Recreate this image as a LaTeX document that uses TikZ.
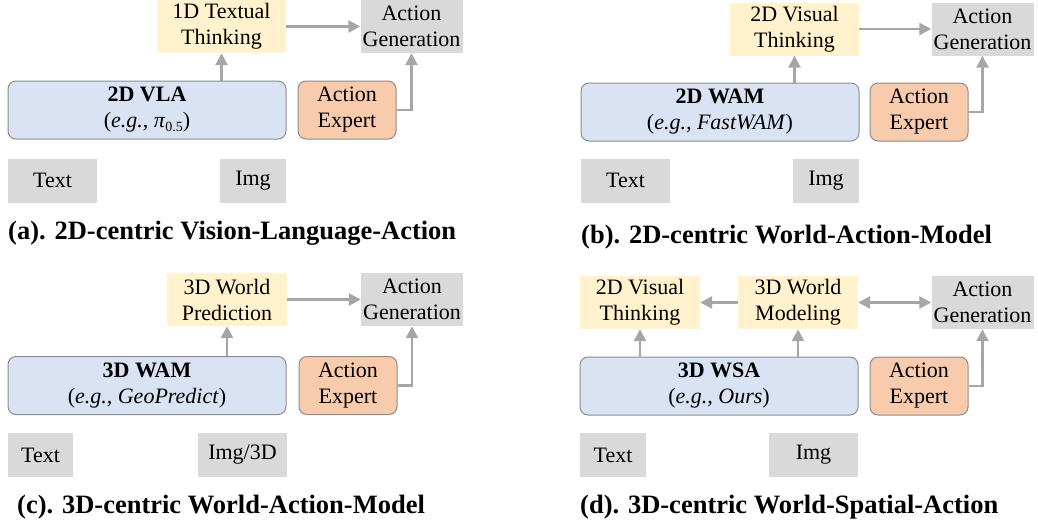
\documentclass[tikz,border=0pt]{standalone}
\usepackage{fontspec}
\setmainfont{Liberation Serif}
\usetikzlibrary{arrows.meta, positioning, calc}
\definecolor{cyel}{HTML}{FFF2CC}
\definecolor{cgen}{HTML}{D9D9D9}
\definecolor{cblue}{HTML}{DAE3F3}
\definecolor{corange}{HTML}{F8CBAD}
\definecolor{cedge}{HTML}{8C8C8C}
\definecolor{carrow}{HTML}{A6A6A6}
\tikzset{
  every picture/.style={font=\fontsize{22}{26}\selectfont},
  flat/.style={fill=#1, draw=none, align=center, inner sep=0pt},
  flat/.default=cgen,
  round/.style={fill=#1, draw=cedge, line width=1pt, rounded corners=8pt, align=center, inner sep=0pt},
  arrow/.style={-{Triangle[length=12pt, width=12pt]}, draw=carrow, line width=2.6pt},
  caption/.style={font=\fontsize{26.5}{30}\selectfont\bfseries, anchor=west, inner sep=0pt},
}

\begin{document}
\begin{tikzpicture}[x=1pt, y=-1pt,
  think/.style={flat=cyel, minimum height=53pt},
  gen/.style={flat=cgen, minimum width=102pt, minimum height=53pt},
  model/.style={round=cblue, minimum width=278pt, minimum height=58pt},
  expert/.style={round=corange, minimum width=98pt, minimum height=58pt},
  inp/.style={flat=cgen, minimum height=44pt}]
  \useasboundingbox (0,0) rectangle (1038,525);
  % (a) 2D VLA
  \node[think, minimum width=129pt] (thA) at (221.5, 26.5) {1D Textual\\Thinking};
  \node[gen] (genA) at (411.5, 26.5) {Action\\Generation};
  \node[model] (vla) at (147, 110) {\textbf{2D VLA}\\(\textit{e.g.}, \textit{π}\raisebox{-0.4ex}{\fontsize{14}{14}\selectfont 0.5})};
  \node[expert] (expA) at (347, 110) {Action\\Expert};
  \node[inp, minimum width=89pt] (txtA) at (52.5, 180.5) {Text};
  \node[inp, minimum width=66pt] (imgA) at (253, 180.5) {Img};
  \node[caption] (capA) at (8, 233) {(a). 2D-centric Vision-Language-Action};
  \draw[arrow] (thA.east) -- (genA.west);
  \draw[arrow] (thA.south |- vla.north) -- (thA.south);
  \draw[arrow] (expA.east) -| (genA.south);
  % (b) 2D WAM
  \node[think, minimum width=129pt] (thB) at (794.5, 29) {2D Visual\\Thinking};
  \node[gen] (genB) at (982.5, 29) {Action\\Generation};
  \node[model] (wamB) at (720, 112) {\textbf{2D WAM}\\(\textit{e.g., FastWAM})};
  \node[expert] (expB) at (919, 112) {Action\\Expert};
  \node[inp, minimum width=89pt] (txtB) at (625.5, 180.5) {Text};
  \node[inp, minimum width=66pt] (imgB) at (826, 180.5) {Img};
  \node[caption] (capB) at (581, 237) {(b). 2D-centric World-Action-Model};
  \draw[arrow] (thB.east) -- (genB.west);
  \draw[arrow] (thB.south |- wamB.north) -- (thB.south);
  \draw[arrow] (expB.east) -| (genB.south);
  % (c) 3D WAM
  \node[think, minimum width=120pt] (thC) at (227, 299.5) {3D World\\Prediction};
  \node[gen] (genC) at (412, 299.5) {Action\\Generation};
  \node[model] (wamC) at (147, 385.5) {\textbf{3D WAM}\\(\textit{e.g., GeoPredict})};
  \node[expert] (expC) at (348, 385.5) {Action\\Expert};
  \node[inp, minimum width=65pt] (txtC) at (40.5, 455) {Text};
  \node[inp, minimum width=89pt] (imgC) at (242.5, 455) {Img/3D};
  \node[caption] (capC) at (17, 507) {(c). 3D-centric World-Action-Model};
  \draw[arrow] (thC.east) -- (genC.west);
  \draw[arrow] (thC.south |- wamC.north) -- (thC.south);
  \draw[arrow] (expC.east) -| (genC.south);
  % (d) 3D WSA
  \node[think, minimum width=120pt] (visD) at (640, 302.5) {2D Visual\\Thinking};
  \node[think, minimum width=120pt] (wmD) at (798, 302.5) {3D World\\Modeling};
  \node[gen] (genD) at (982.5, 302.5) {Action\\Generation};
  \node[model] (wsaD) at (719, 386) {\textbf{3D WSA}\\(\textit{e.g., Ours})};
  \node[expert] (expD) at (919, 386) {Action\\Expert};
  \node[inp, minimum width=66pt] (txtD) at (613, 455) {Text};
  \node[inp, minimum width=89pt] (imgD) at (813.5, 455) {Img};
  \node[caption] (capD) at (580, 507) {(d). 3D-centric World-Spatial-Action};
  \draw[arrow] (wmD.west) -- (visD.east);
  \draw[arrow, {Triangle[length=12pt, width=12pt]}-{Triangle[length=12pt, width=12pt]}] (wmD.east) -- (genD.west);
  \foreach \n in {visD, wmD} \draw[arrow] (\n.south |- wsaD.north) -- (\n.south);
  \draw[arrow] (expD.east) -| (genD.south);
\end{tikzpicture}
\end{document}
